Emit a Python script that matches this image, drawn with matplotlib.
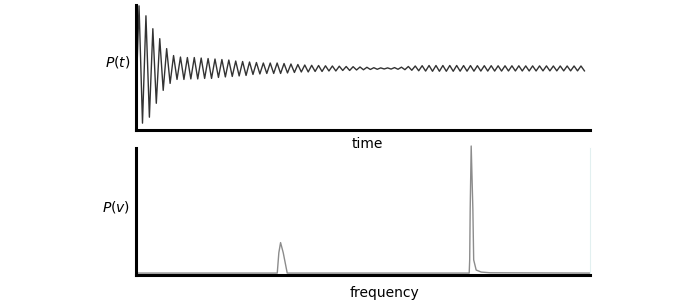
"""Decaying time signal P(t) and its spectrum P(v)."""
import numpy as np
import matplotlib
matplotlib.use("Agg")
import matplotlib.pyplot as plt

plt.rcParams["font.family"] = "DejaVu Sans"
plt.rcParams["mathtext.fontset"] = "dejavusans"

# time signal: upper / lower extremum of each oscillation cycle
peak_amp = [63, 53, 40, 30, 20, 13, 11.5, 11, 11, 10.5,
            10, 9.5, 9, 8.5, 7.5, 7, 6.5, 6, 5.5, 5.5,
            5.5, 5, 4.5, 4, 3.5, 3.2, 3, 2.7, 2.5, 2.3,
            2, 1.8, 1.5, 1.2, 0.8, 0.6, 0.6, 0.9, 1.3, 2,
            2.5, 2.8, 3, 3, 3, 3, 3, 2.9, 2.9, 2.8,
            2.8, 2.8, 2.7, 2.7, 2.7, 2.7, 2.6, 2.6, 2.6, 2.6,
            2.5, 2.5, 2.5, 2.5, 2.5]
trough_amp = [-55, -49, -35, -22, -15, -11, -11, -10.5, -10.5, -10,
              -10, -9, -8.5, -8, -7.5, -7, -6, -5.5, -5, -5,
              -5, -4.5, -4, -3.5, -3.5, -3, -3, -2.5, -2.5, -2,
              -2, -1.5, -1.3, -1, -0.8, -0.5, -0.6, -0.8, -1.2, -1.8,
              -2.3, -2.6, -2.8, -2.8, -2.8, -2.8, -2.7, -2.7, -2.7, -2.6,
              -2.6, -2.6, -2.6, -2.5, -2.5, -2.5, -2.5, -2.5, -2.4, -2.4,
              -2.4, -2.4, -2.4, -2.4, -2.4]

# spectrum (arbitrary frequency units, intensity)
freq = [0, 30.99, 31.34, 31.72, 32.31, 33.19, 73.35, 73.46, 73.57, 73.79,
        74.16, 74.34, 74.89, 76.0, 78.0, 100]
intensity = [0, 0, 20, 30, 20, 0, 0, 13, 63, 125,
             63, 13, 3, 1, 0.3, 0]

cycle = np.arange(len(peak_amp))
t = np.empty(2 * len(cycle) + 1)
p = np.empty(2 * len(cycle) + 1)
t[0], p[0] = -0.3, 0
t[1::2], p[1::2] = cycle, peak_amp
t[2::2], p[2::2] = cycle + 0.5, trough_amp

fig = plt.figure(figsize=(6.9, 3.04), dpi=100)
ax1 = fig.add_axes([0.197, 0.572, 0.658, 0.412])
ax2 = fig.add_axes([0.197, 0.095, 0.658, 0.418])

ax1.plot(t, p, color="#333333", lw=1.0)
ax1.set_xlim(-0.45, 65.3)
ax1.set_ylim(-62, 64)

ax2.plot(freq, intensity, color="#8c8c8c", lw=1.0, clip_on=False)
ax2.set_xlim(-0.2, 100)
ax2.set_ylim(-2, 123)

for ax in (ax1, ax2):
    ax.set_xticks([])
    ax.set_yticks([])
    ax.spines["top"].set_visible(False)
    ax.spines["right"].set_visible(False)
    ax.spines["left"].set_linewidth(2.2)
    ax.spines["bottom"].set_linewidth(2.2)
ax2.spines["right"].set_visible(True)
ax2.spines["right"].set_color("#e2f0f0")
ax2.spines["right"].set_linewidth(0.8)

fig.text(130 / 690, 1 - 62 / 304, "$P(t)$", ha="right", va="center", fontsize=10)
fig.text(130 / 690, 1 - 207 / 304, "$P(v)$", ha="right", va="center", fontsize=10)
fig.text(367 / 690, 1 - 144 / 304, "time", ha="center", va="center", fontsize=10)
fig.text(385 / 690, 1 - 293 / 304, "frequency", ha="center", va="center", fontsize=10)

fig.savefig("out.png", dpi=100, facecolor="white")
